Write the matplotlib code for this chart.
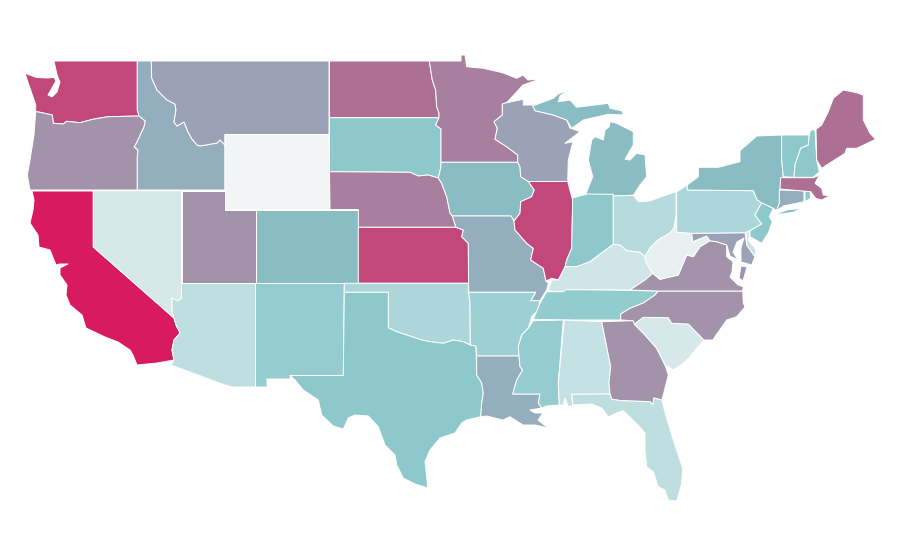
import matplotlib
matplotlib.use("Agg")
import matplotlib.pyplot as plt
from matplotlib.colors import LinearSegmentedColormap
from matplotlib.patches import Polygon

states = ["WA", "OR", "CA", "NV", "ID", "MT", "WY", "UT", "AZ", "CO", "NM", "ND", "SD", "NE", "KS",
          "OK", "TX", "MN", "IA", "MO", "AR", "LA", "WI", "IL", "MI", "IN", "OH", "KY", "TN", "MS",
          "AL", "GA", "FL", "SC", "NC", "VA", "WV", "MD", "DE", "PA", "NJ", "NY", "CT", "RI", "MA",
          "VT", "NH", "ME"]
values = [0.87, 0.655, 1.0, 0.135, 0.575, 0.61, 0.0, 0.655, 0.255, 0.535, 0.45, 0.755, 0.49, 0.71, 0.87,
          0.34, 0.49, 0.71, 0.535, 0.575, 0.415, 0.575, 0.61, 0.87, 0.535, 0.49, 0.295, 0.175, 0.46, 0.45,
          0.215, 0.655, 0.255, 0.135, 0.655, 0.655, 0.06, 0.61, 0.215, 0.34, 0.49, 0.535, 0.575, 0.49, 0.755,
          0.49, 0.49, 0.755]

# contornos en coordenadas de la imagen
shapes = {
    "WA": [[(54,61),(137.3,61),(137.3,110),(139,116),(108,116.7),(92.7,119.3),(80,122.7),(66.7,121.3),(63.3,124),
            (53.3,123.3),(52.3,115),(40,112.3),(35.7,111.7),(35.7,105),(33,96.7),(28.3,83.3),(25,73.3),(36.7,77.5),
            (47,78),(54,77.5),(56,81),(52,88),(48,95),(52,97),(57,92),(60,82),(57,75)]],
    "OR": [[(35.7,111.7),(40,112.3),(52.3,115),(53.3,123.3),(63.3,124),(66.7,121.3),(80,122.7),(92.7,119.3),(108,116.7),
            (139,116),(145.3,121),(144,127),(137,142),(134.3,147),(138,150),(137.3,157),(137.3,190),(30,190),(27.3,175),
            (30,160),(34,135)]],
    "CA": [[(32,191),(93.3,191),(93.3,247),(174,318),(176,325),(180,333),(174,340),(172,350),(174,360),(157,363),(137,365),
            (133,355),(130,350),(118,342),(105,337),(86,328),(82,315),(70,305),(66,295),(67,285),(60,275),(60,268),(68,264),
            (60,264),(56,265),(50,250),(39,247),(38,235),(30,223),(33,210),(34,200)]],
    "NV": [[(93.3,190.7),(181.5,190.7),(181.5,298),(178,301),(172,298),(172,310),(174,318),(93.3,247)]],
    "ID": [[(137.3,61),(151.3,61),(151.7,78),(157,90),(167,100),(175,104),(176,110),(174,122),(177,126),(184,122),(188,132),
            (192,139),(197,145),(200,146),(217,143),(220,140),(225,145),(225,190),(137.3,190),(137.3,157),(138,150),(134.3,147),
            (137,142),(144,127),(145.3,121),(139,116),(137.3,110)]],
    "MT": [[(151.3,61),(329,61),(329,134.5),(225,134.5),(225,145),(220,140),(217,143),(200,146),(197,145),(192,139),(188,132),
            (184,122),(177,126),(174,122),(176,110),(175,104),(167,100),(157,90),(151.7,78)]],
    "WY": [[(225,134.5),(329,134.5),(330,209.5),(225,209.5)]],
    "UT": [[(181.5,190.5),(225,190.5),(225,209.5),(255.5,209.5),(255.5,283.5),(181.5,283.5)]],
    "AZ": [[(181.5,283.5),(255.5,283.5),(255.5,387),(233,387),(225,385),(171,365),(174,360),(172,350),(174,340),(180,333),
            (176,325),(174,318),(172,310),(172,298),(178,301),(181.5,298)]],
    "CO": [[(255.5,209.5),(358.3,209.5),(358.3,283.5),(255.5,283.5)]],
    "NM": [[(255.5,283.5),(344.3,283.5),(343.3,375.5),(290,375.5),(290.7,379),(267,379),(267,387),(255.5,387)]],
    "ND": [[(329.5,61),(429.3,61),(432.3,80),(435.7,90),(436.7,106.7),(439,113),(439,117.7),(329.5,117.7)]],
    "SD": [[(329.5,117.7),(439,117.7),(435.7,125),(441,129),(441,162.3),(440.7,168),(438.3,178),(428,175),(418.3,176),(410,172.3),
            (329.5,171.7)]],
    "NE": [[(329.5,171.7),(410,172.3),(418.3,176),(428,175),(438.3,178),(441.7,183.3),(446.7,196.7),(450,213),(452.3,216),(456,227.3),
            (358.3,227.3),(358.3,209.5),(330,209.5)]],
    "KS": [[(358.3,227.3),(456,227.3),(463.3,230),(461.7,236.7),(468.3,243.3),(468.5,283.3),(358.3,283.3)]],
    "OK": [[(344.3,283.3),(468.5,283.3),(468.7,292.3),(470,303.3),(470.3,345),(463.3,341.7),(453.3,340),(443.3,343.3),(430,341.7),
            (421.7,340),(406.7,335),(396.7,331.7),(388.3,327.7),(388.3,292.3),(344.3,292.3)]],
    "TX": [[(344.3,292.3),(388.3,292.3),(388.3,327.7),(396.7,331.7),(406.7,335),(421.7,340),(430,341.7),(443.3,343.3),(453.3,340),
            (463.3,341.7),(470.3,345),(476,346),(476.7,375),(481.7,383),(483.3,393),(481.7,403),(480.7,416.7),(466.7,420),(461.7,423),
            (455,433),(440,438),(430,450),(425,461.7),(426.7,476.7),(427.7,488),(415,484),(403.3,478),(396.7,465),(395,455),(385,445),
            (378.3,426.7),(368.3,416),(355,415),(348.3,418),(343.3,429),(333.3,426),(321.7,415),(318.3,400),(303.3,390),(295,380),
            (290,375.5),(343.3,375.5)]],
    "MN": [[(429.3,61),(461,61),(461,55),(465,55),(466.7,66.7),(483.3,68.3),(498.3,71.7),(503.3,73),(516.7,78.3),(523,75),(528,80),
            (540,79),(523,85),(506.7,102.7),(502.3,104),(502.3,115),(494,121.7),(497.3,128.3),(495,139.3),(506.7,146.7),(517.7,155),
            (517.7,162.3),(441,162.3),(441,129),(435.7,125),(439,117.7),(439,113),(436.7,106.7),(435.7,90),(432.3,80)]],
    "IA": [[(441,162.3),(517.7,162.3),(520,166.7),(520.7,176.7),(528.3,181.5),(534.3,190),(531.7,196.7),(520.7,201.7),(520,213.3),
            (514,221),(511,216),(452.3,216),(450,213),(446.7,196.7),(441.7,183.3),(438.3,178),(440.7,168)]],
    "MO": [[(452.3,216),(511,216),(514,221),(515,230),(526.7,243.3),(533.3,248.3),(530.7,260),(543.3,268.3),(546,281),(548.3,283.3),
            (546.7,290),(540,300.7),(530.7,300.7),(535.7,292.3),(468.7,292.3),(468.3,243.3),(461.7,236.7),(463.3,230),(456,227.3)]],
    "AR": [[(468.7,292.3),(535.7,292.3),(530.7,300.7),(540,300.7),(538,310),(531.7,316.7),(528.3,328.3),(521.7,335),(518.3,346.7),
            (519,356),(476.7,356),(476,346),(470.3,345),(470,303.3)]],
    "LA": [[(476.7,356),(519,356),(520,366.7),(522.7,370),(516.7,380),(512.7,394),(540,394),(538.3,403),(541.7,408),(530,410),(535,413),
            (543,413),(538,420),(548,428),(535,425),(523,425),(510,416.7),(503,420),(486.7,416),(480.7,416.7),(481.7,403),(483.3,393),
            (481.7,383),(476.7,375)]],
    "WI": [[(502.3,104),(506.7,102.7),(523.3,99.3),(523.3,105),(533.3,105),(535,110.7),(553.3,115),(566.7,120),(570,128),(580,131.7),
            (565,143.3),(573,141.7),(568.3,160),(567.7,181.5),(528.3,181.5),(520.7,176.7),(520,166.7),(517.7,162.3),(517.7,155),
            (506.7,146.7),(495,139.3),(497.3,128.3),(494,121.7),(502.3,115)]],
    "IL": [[(528.3,181.5),(567.7,181.5),(571.7,196.7),(572.7,200),(571.7,248.3),(566.7,260),(565,268.3),(558.3,280),(551.7,278.3),
            (546,281),(543.3,268.3),(530.7,260),(533.3,248.3),(526.7,243.3),(515,230),(514,221),(520,213.3),(520.7,201.7),(531.7,196.7),
            (534.3,190)]],
    "MI": [[(585.7,194.3),(613.3,196),(633.3,195.3),(640,185),(646.7,176.7),(645,155),(636.7,153.3),(630,160),(625,159.3),(633.3,145),
            (633.3,131.7),(616.7,123.3),(610,121.7),(609.3,126.7),(605,130),(603.3,140),(595,136.7),(591.7,140),(588.3,160),(592.7,176.7)],
           [(532.7,106),(553.3,98.3),(558,94),(568,90),(560,96),(558.3,101.7),(570,100),(576.7,107.3),(608.3,103.3),(610,108.3),
            (621.7,110.7),(623.3,115),(608.3,114.3),(583.3,120),(571.7,128.3),(566.7,120),(553.3,115),(535,110.7)]],
    "IN": [[(572.7,197.7),(576,197),(587,194),(613.3,194.3),(613.3,244.3),(603.3,251.7),(590,261.7),(576.7,266.7),(565,266.7),
            (566.7,260),(571.7,248.3)]],
    "OH": [[(613.3,196),(633.3,195.3),(638.3,201.7),(650,201),(663.3,196),(676,191.7),(676,217),(674,228),(670,233),(658,240),(650,248),
            (645,256.7),(640,252.3),(626.7,250.7),(620,245),(613.3,244.3)]],
    "KY": [[(548.3,291),(551.7,280),(558.3,280),(565,266.7),(576.7,266.7),(590,261.7),(603.3,251.7),(613.3,244.3),(620,245),(626.7,250.7),
            (640,252.3),(645,256.7),(645.7,261.7),(652.7,273.3),(645,280),(630,290),(606.7,290),(566,289.7),(566,291.7)]],
    "TN": [[(566,289.7),(606.7,290),(658.3,291),(655,295),(643.3,303),(630,308.3),(620.7,314),(620.7,320),(601.7,320),(564.3,320),
            (533.3,319.3),(540,303.3),(546.7,291.7),(563.3,291.7)]],
    "MS": [[(533.3,320.7),(563.3,320),(558.3,383.3),(559.3,405),(546.7,406),(541.7,408),(538.3,403),(540,394),(512.7,394),(516.7,380),
            (522.7,370),(520,366.7),(519,356),(518.3,346.7),(521.7,335),(528.3,328.3)]],
    "AL": [[(564.3,320),(601.7,321.7),(606.7,346.7),(610.7,366.7),(610,373),(609,383),(610,394),(571.7,394.3),(573,405),(568.3,406.7),
            (565,398),(563.3,405),(559.3,405),(558.3,383.3)]],
    "GA": [[(601.7,321.7),(633.3,320.7),(635,325),(645,335),(656.7,348.3),(665,365),(668.3,375),(663.3,395),(661.7,400),(654,398),
            (652.7,405),(650,401.7),(621.7,400.7),(611.7,399.3),(610,394),(609,383),(610,373),(610.7,366.7),(606.7,346.7)]],
    "FL": [[(571.7,394.3),(610,394),(611.7,399.3),(621.7,400.7),(650,401.7),(652.7,405),(654,398),(661.7,400),(666.7,418.3),(673.3,440),
            (682.7,468.3),(681.7,483.3),(676.7,501),(668.3,500),(665,490),(658.3,486.7),(653.3,471.7),(646.7,466.7),(645,450),(645,433),
            (638,425),(623.3,410.7),(616.7,413),(608.3,417),(601.7,408),(591.7,404),(573,405)]],
    "SC": [[(634.3,324),(643.3,317.3),(668.3,317.7),(671.7,323.3),(688.3,324),(704,340),(696.7,348.3),(690,356.7),(683.3,363.3),(673.3,370),
            (665,365),(656.7,348.3),(645,335)]],
    "NC": [[(658.3,291),(742.7,291),(743.3,303),(745,307),(736.7,316.7),(726.7,320),(712.7,340),(704,340),(688.3,324),(671.7,323.3),
            (668.3,317.7),(643.3,317.3),(634.3,324),(633.3,320.7),(620.7,320),(620.7,314),(630,308.3),(643.3,303),(655,295)]],
    "VA": [[(710,240.7),(716.7,241.7),(726.7,245),(726.7,256.7),(733,261.7),(732,272),(730,277),(738,285),(743.3,286.7),(742.7,291),(658.3,291),
            (630,290),(645,280),(652.7,273.3),(660,279.3),(678.3,275),(686.7,255),(693.3,256.7),(700,246.7)],
           [(741,266),(747,267),(743,281),(739,278)]],
    "WV": [[(676,217),(676.7,232.3),(691.7,233.3),(692.7,241.7),(706.7,236),(710,240.7),(700,246.7),(693.3,256.7),(686.7,255),(678.3,275),
            (660,279.3),(652.7,273.3),(645.7,261.7),(645,256.7),(650,248),(658,240),(670,233),(674,228)]],
    "MD": [[(691.7,233.3),(745,232.7),(746.7,245),(755,256.7),(751.7,265),(741,262),(741,248),(744,238),(737,242),(733,252),(738,260),
            (730,256),(726.7,245),(716.7,241.7),(710,240.7),(706.7,236),(692.7,241.7)]],
    "DE": [[(746.7,232.7),(750,231.7),(748.3,240),(756,250),(755,256.7),(746.7,245)]],
    "PA": [[(676.7,191.7),(687.3,185),(687.3,190),(753.3,190.7),(757.3,200),(761.7,202.7),(755,215),(761.7,224),(750,230.7),(745,232.7),
            (691.7,233.3),(676.7,232.3)]],
    "NJ": [[(761.7,202.7),(773.3,208.3),(769.3,216.7),(772.3,221.7),(768.3,233),(761.7,243.3),(750,236.7),(750,230.7),(761.7,224),(755,215)]],
    "NY": [[(687.3,185),(698.3,176.7),(698.3,167.3),(718.3,167.3),(740,161.7),(740,150.7),(756.7,136),(781.7,135),(781.7,160),(783.3,176.7),
            (780,188.3),(779.3,203.3),(776.7,210.7),(773.3,208.3),(761.7,202.7),(757.3,200),(753.3,190.7),(687.3,190)],
           [(773.3,215),(786.7,210),(801.7,208.3),(793.3,212.3)]],
    "CT": [[(779.3,190),(804,190.7),(804,201.7),(783.3,206),(776.7,210.7),(779.3,203.3)]],
    "RI": [[(805,190.7),(810,191),(810.7,198.3),(805,201.7)]],
    "MA": [[(780.7,177.7),(813.3,177.7),(819.3,175),(815,183.3),(821.7,188.3),(823.3,195),(830,195.7),(821.7,200),(815.7,198.3),(810.7,191.7),
            (780,189)]],
    "VT": [[(781.7,135),(809.3,135),(808.3,145),(800.7,148.3),(795,165),(794,177.3),(783.3,176.7),(781.7,160)]],
    "NH": [[(810.7,130),(815,130),(816.7,160),(819.3,171.7),(813.3,177.3),(794,177.3),(795,165),(800.7,148.3),(808.3,145),(809.3,135)]],
    "ME": [[(816,129.3),(821.7,125),(828.3,111.7),(833.3,98.3),(843.3,90),(856.7,92.7),(863.3,95),(863.3,120),(870,133.3),(875.7,139.3),
            (856.7,148.3),(846.7,148.3),(845,153.3),(826.7,165),(821.7,168.3),(816.7,160)]],
}

scale_stops = [(0.0, "#f3f4f6"), (0.49, "#8dc9cc"), (0.535, "#8abdc3"), (0.575, "#94afbd"), (0.61, "#9ca3b5"),
               (0.655, "#a293ab"), (0.71, "#a87f9f"), (0.755, "#ae7094"), (0.87, "#c2487c"), (1.0, "#d81b60")]
cmap = LinearSegmentedColormap.from_list("ventas", scale_stops)

fig = plt.figure(figsize=(9, 5.6), dpi=100)
ax = fig.add_axes([0, 0, 1, 1])

for name, val in zip(states, values):
    for part in shapes[name]:
        ax.add_patch(Polygon(part, closed=True, facecolor=cmap(val), edgecolor="white", linewidth=0.7, joinstyle="round"))

ax.set_xlim(0, 900)
ax.set_ylim(560, 0)
ax.axis("off")

fig.savefig("out.png", dpi=100)
